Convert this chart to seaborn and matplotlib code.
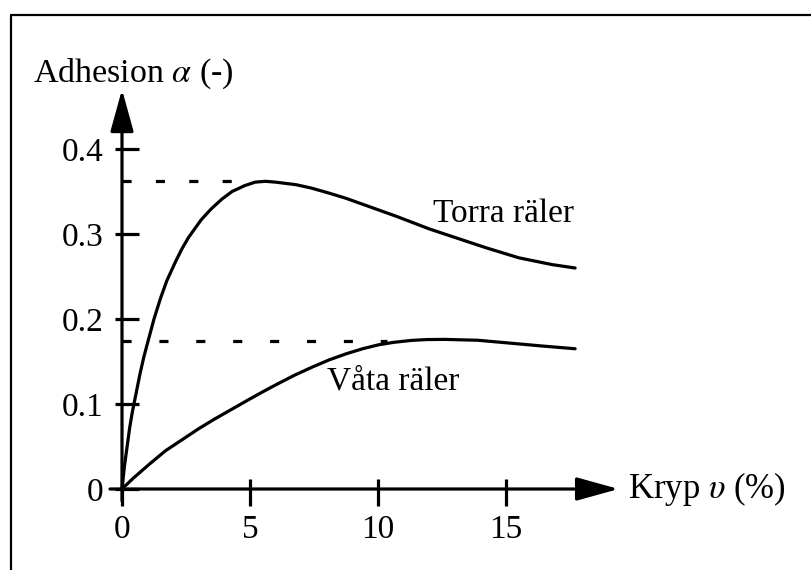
import matplotlib
matplotlib.use("Agg")
import matplotlib.pyplot as plt
from matplotlib.lines import Line2D
import seaborn as sns
import pandas as pd

# ---- data ----
torra_x = [0, 0.1, 0.2, 0.3, 0.4, 0.5, 0.7, 0.85, 1.0, 1.25, 1.5, 1.75, 2.1, 2.35, 2.6, 3.1,
           3.5, 3.9, 4.3, 4.8, 5.2, 5.6, 6.0, 6.8, 7.4, 8.1, 8.75, 9.4, 10.7, 12.0, 12.9,
           14.2, 15.5, 16.8, 17.7]
torra_y = [0, 0.028, 0.05, 0.072, 0.09, 0.105, 0.135, 0.155, 0.172, 0.2, 0.224, 0.245,
           0.268, 0.283, 0.296, 0.317, 0.330, 0.341, 0.350, 0.357, 0.361, 0.362, 0.361,
           0.358, 0.354, 0.348, 0.342, 0.335, 0.321, 0.306, 0.297, 0.284, 0.272, 0.264,
           0.26]
vata_x = [0, 0.45, 1.1, 1.7, 2.35, 3.0, 3.6, 4.3, 5.0, 5.6, 6.1, 6.75, 7.4, 8.1, 8.75, 9.4,
          10.0, 10.6, 11.3, 11.9, 12.6, 13.9, 15.2, 16.5, 17.7]
vata_y = [0, 0.013, 0.030, 0.045, 0.058, 0.071, 0.082, 0.094, 0.106, 0.116, 0.124, 0.134,
          0.143, 0.152, 0.159, 0.165, 0.1695, 0.1725, 0.1748, 0.1758, 0.176, 0.175, 0.1715,
          0.168, 0.165]
dash_levels = [0.362, 0.174]
dash_ends = [4.45, 10.35]
x_ticks = [0, 5, 10, 15]
x_ticklabels = ["0", "5", "10", "15"]
y_ticks = [0, 0.1, 0.2, 0.3, 0.4]
y_ticklabels = ["0", "0.1", "0.2", "0.3", "0.4"]
series_names = ["Torra räler", "Våta räler"]
y_label = "Adhesion $\\alpha$ (-)"
x_label = "Kryp $\\upsilon$ (%)"

df = pd.concat([
    pd.DataFrame({"x": torra_x, "y": torra_y, "s": series_names[0]}),
    pd.DataFrame({"x": vata_x, "y": vata_y, "s": series_names[1]}),
])

sns.set_theme(style="white")
plt.rcParams["font.family"] = ["Liberation Serif", "DejaVu Serif"]
plt.rcParams["mathtext.fontset"] = "stix"

W, H = 812, 570
fig = plt.figure(figsize=(W / 100, H / 100), dpi=100)
fig.patch.set_facecolor("white")

# axes placement (pixel based)
x0px, xscale = 122.0, 25.6
y0px_top, yscale = 489.0, 850.0
xlim = (-1, 20)
ylim = (-0.05, 0.48)
left = x0px + xlim[0] * xscale
bottom = (H - y0px_top) + ylim[0] * yscale
ax = fig.add_axes([left / W, bottom / H, (xlim[1] - xlim[0]) * xscale / W,
                   (ylim[1] - ylim[0]) * yscale / H])
ax.set_facecolor("none")

LW = 2.3
sns.lineplot(data=df, x="x", y="y", units="s", estimator=None, color="black",
             linewidth=LW, ax=ax, legend=False, sort=False)
for ln in ax.get_lines():
    ln.set_solid_joinstyle("round")

dash_styles = [(0, (2.85, 7.6)), (0, (2.85, 8.7))]
for lvl, xe, ls in zip(dash_levels, dash_ends, dash_styles):
    ax.hlines(lvl, 0, xe, colors="black", linewidth=LW, linestyles=[ls])

ax.set_xlim(*xlim)
ax.set_ylim(*ylim)
ax.set_xlabel("")
ax.set_ylabel("")

for sp in ["top", "right"]:
    ax.spines[sp].set_visible(False)
for sp in ["left", "bottom"]:
    ax.spines[sp].set_position(("data", 0))
    ax.spines[sp].set_visible(False)

ax.set_xticks(x_ticks)
ax.set_xticklabels(x_ticklabels)
ax.set_yticks(y_ticks)
ax.set_yticklabels(y_ticklabels)
ax.set_xticks(x_ticks, minor=True)
ax.set_yticks(y_ticks, minor=True)
ax.xaxis.remove_overlapping_locs = False
ax.yaxis.remove_overlapping_locs = False

ax.tick_params(axis="x", which="both", bottom=True, top=False)
ax.tick_params(axis="y", which="both", left=True, right=False)
ax.tick_params(axis="x", which="major", direction="out", length=12.2, width=LW,
               color="black", labelsize=24, pad=6, labelcolor="black")
ax.tick_params(axis="x", which="minor", direction="in", length=7.2, width=LW,
               color="black")
ax.tick_params(axis="y", which="major", direction="in", length=12.2, width=LW,
               color="black", labelsize=24, pad=13.5, labelcolor="black")
ax.tick_params(axis="y", which="minor", direction="out", length=5.0, width=LW,
               color="black")
ax.grid(False)

# axis arrows
arrow_kw = dict(arrowstyle="-|>,head_length=26,head_width=7.2", color="black",
                lw=LW, mutation_scale=1, shrinkA=0, shrinkB=0)
ax.annotate("", xy=(0, 0.47), xytext=(0, -0.014), arrowprops=arrow_kw,
            annotation_clip=False)
ax.annotate("", xy=(19.4, 0), xytext=(-0.47, 0), arrowprops=arrow_kw,
            annotation_clip=False)

# labels
ax.text(12.15, 0.314, series_names[0], fontsize=24, ha="left", va="baseline",
        color="black")
ax.text(8.0, 0.117, series_names[1], fontsize=24, ha="left", va="baseline",
        color="black")
ax.text(-3.48, 0.509, y_label, fontsize=24.5, ha="left", va="top", color="black",
        clip_on=False)
ax.text(19.77, 0.0, x_label, fontsize=25, ha="left", va="center", color="black",
        clip_on=False)

# frame around the picture (left and top edges visible)
fx = 11.5 / W
fy = (H - 15.0) / H
fig.add_artist(Line2D([fx, fx], [0, fy], transform=fig.transFigure, color="black",
                      linewidth=1.6))
fig.add_artist(Line2D([fx, 1.0], [fy, fy], transform=fig.transFigure, color="black",
                      linewidth=1.6))

fig.savefig("out.png", dpi=100, facecolor="white")
